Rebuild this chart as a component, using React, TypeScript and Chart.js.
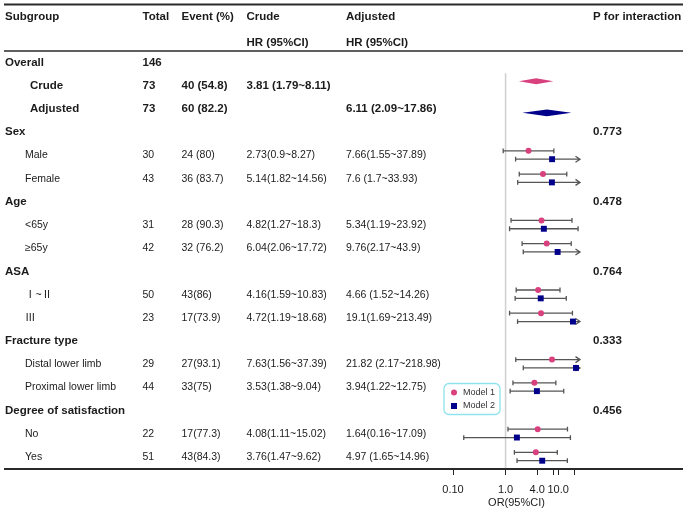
import React, { useEffect, useRef } from "react";
import { Chart, registerables } from "chart.js";

Chart.register(...registerables);

const FONT = '"Liberation Sans", Arial, Helvetica, "Noto Sans CJK SC", sans-serif';
const PINK = "#D8407E";
const NAVY = "#00008B";
const GREY = "#555555";
const INK = "#1b1b1b";

// ---- data ----
const subgroups = [
  "Overall", "Crude", "Adjusted",
  "Sex", "Male", "Female",
  "Age", "<65y", "≥65y",
  "ASA", "Ⅰ~Ⅱ", "Ⅲ",
  "Fracture type", "Distal lower limb", "Proximal lower limb",
  "Degree of satisfaction", "No", "Yes",
];
const rowTypes = [
  "group", "overall", "overall",
  "group", "item", "item",
  "group", "item", "item",
  "group", "item", "item",
  "group", "item", "item",
  "group", "item", "item",
];
const totals = ["146", "73", "73", "", "30", "43", "", "31", "42", "", "50", "23", "", "29", "44", "", "22", "51"];
const events = ["", "40 (54.8)", "60 (82.2)", "", "24 (80)", "36 (83.7)", "", "28 (90.3)", "32 (76.2)", "", "43(86)", "17(73.9)", "", "27(93.1)", "33(75)", "", "17(77.3)", "43(84.3)"];
const crudeHR = ["", "3.81 (1.79~8.11)", "", "", "2.73(0.9~8.27)", "5.14(1.82~14.56)", "", "4.82(1.27~18.3)", "6.04(2.06~17.72)", "", "4.16(1.59~10.83)", "4.72(1.19~18.68)", "", "7.63(1.56~37.39)", "3.53(1.38~9.04)", "", "4.08(1.11~15.02)", "3.76(1.47~9.62)"];
const adjustedHR = ["", "", "6.11 (2.09~17.86)", "", "7.66(1.55~37.89)", "7.6 (1.7~33.93)", "", "5.34(1.19~23.92)", "9.76(2.17~43.9)", "", "4.66 (1.52~14.26)", "19.1(1.69~213.49)", "", "21.82 (2.17~218.98)", "3.94(1.22~12.75)", "", "1.64(0.16~17.09)", "4.97 (1.65~14.96)"];
const pInteraction = ["", "", "", "0.773", "", "", "0.478", "", "", "0.764", "", "", "0.333", "", "", "0.456", "", ""];

// Model 1 (crude) estimates
const m1Est = [null, 3.81, null, null, 2.73, 5.14, null, 4.82, 6.04, null, 4.16, 4.72, null, 7.63, 3.53, null, 4.08, 3.76];
const m1Lo = [null, 1.79, null, null, 0.9, 1.82, null, 1.27, 2.06, null, 1.59, 1.19, null, 1.56, 1.38, null, 1.11, 1.47];
const m1Hi = [null, 8.11, null, null, 8.27, 14.56, null, 18.3, 17.72, null, 10.83, 18.68, null, 37.39, 9.04, null, 15.02, 9.62];
// Model 2 (adjusted) estimates
const m2Est = [null, null, 6.11, null, 7.66, 7.6, null, 5.34, 9.76, null, 4.66, 19.1, null, 21.82, 3.94, null, 1.64, 4.97];
const m2Lo = [null, null, 2.09, null, 1.55, 1.7, null, 1.19, 2.17, null, 1.52, 1.69, null, 2.17, 1.22, null, 0.16, 1.65];
const m2Hi = [null, null, 17.86, null, 37.89, 33.93, null, 23.92, 43.9, null, 14.26, 213.49, null, 218.98, 12.75, null, 17.09, 14.96];

const xTickValues = [0.1, 1, 4, 8, 10, 20];
const xTickLabels = ["0.10", "1.0", "4.0", "", "10.0", ""];
const legendLabels = ["Model 1", "Model 2"];

export default function App() {
  const ref = useRef<HTMLCanvasElement>(null);

  useEffect(() => {
    const canvas = ref.current;
    if (!canvas) return;

    const X_MIN = 0.1;
    const X_MAX = 26;
    const OFF1 = -0.2;
    const OFF2 = 0.16;

    const m1Points: { x: number; y: number }[] = [];
    const m2Points: { x: number; y: number }[] = [];
    subgroups.forEach((_, i) => {
      if (rowTypes[i] !== "item") return;
      if (m1Est[i] != null) m1Points.push({ x: m1Est[i] as number, y: i + OFF1 });
      if (m2Est[i] != null) m2Points.push({ x: m2Est[i] as number, y: i + OFF2 });
    });

    const forestPlugin = {
      id: "forestTable",
      beforeDatasetsDraw(chart: any) {
        const { ctx, chartArea } = chart;
        const xs = chart.scales.x;
        const ys = chart.scales.y;
        ctx.save();
        // reference line at 1
        const x1 = xs.getPixelForValue(1);
        ctx.strokeStyle = "#d2d2d2";
        ctx.lineWidth = 1.6;
        ctx.beginPath();
        ctx.moveTo(x1, ys.getPixelForValue(0.45));
        ctx.lineTo(x1, chartArea.bottom);
        ctx.stroke();

        const drawCI = (lo: number, hi: number, y: number) => {
          const xl = xs.getPixelForValue(Math.max(lo, X_MIN));
          const xh = xs.getPixelForValue(Math.min(hi, X_MAX));
          ctx.strokeStyle = GREY;
          ctx.lineWidth = 1.3;
          ctx.beginPath();
          ctx.moveTo(xl, y);
          ctx.lineTo(xh, y);
          if (lo >= X_MIN) {
            ctx.moveTo(xl, y - 2.4);
            ctx.lineTo(xl, y + 2.4);
          }
          if (hi <= X_MAX) {
            ctx.moveTo(xh, y - 2.4);
            ctx.lineTo(xh, y + 2.4);
          } else {
            ctx.moveTo(xh - 4.5, y - 3);
            ctx.lineTo(xh, y);
            ctx.lineTo(xh - 4.5, y + 3);
          }
          ctx.stroke();
        };
        const drawDiamond = (est: number, lo: number, hi: number, y: number, h: number, color: string) => {
          const xl = xs.getPixelForValue(lo);
          const xe = xs.getPixelForValue(est);
          const xh = xs.getPixelForValue(hi);
          ctx.fillStyle = color;
          ctx.beginPath();
          ctx.moveTo(xl, y);
          ctx.lineTo(xe, y - h);
          ctx.lineTo(xh, y);
          ctx.lineTo(xe, y + h);
          ctx.closePath();
          ctx.fill();
        };

        subgroups.forEach((_, i) => {
          if (rowTypes[i] === "item") {
            if (m1Est[i] != null) drawCI(m1Lo[i] as number, m1Hi[i] as number, ys.getPixelForValue(i + OFF1));
            if (m2Est[i] != null) drawCI(m2Lo[i] as number, m2Hi[i] as number, ys.getPixelForValue(i + OFF2));
          } else if (rowTypes[i] === "overall") {
            if (m1Est[i] != null)
              drawDiamond(m1Est[i] as number, m1Lo[i] as number, m1Hi[i] as number, ys.getPixelForValue(i + OFF1), 3, PINK);
            if (m2Est[i] != null)
              drawDiamond(m2Est[i] as number, m2Lo[i] as number, m2Hi[i] as number, ys.getPixelForValue(i + OFF2), 3.4, NAVY);
          }
        });
        ctx.restore();
      },
      afterDraw(chart: any) {
        const { ctx } = chart;
        const ys = chart.scales.y;
        const W = chart.width;
        ctx.save();
        const bold = `bold 11.5px ${FONT}`;
        const reg = `10.5px ${FONT}`;
        ctx.fillStyle = INK;
        ctx.textBaseline = "middle";
        ctx.textAlign = "left";

        const colTotal = 142.5;
        const colEvent = 181.5;
        const colCrude = 246.5;
        const colAdj = 346;
        const colP = 593;

        // header
        ctx.font = bold;
        const h1 = ys.getPixelForValue(-1.97);
        const h2 = ys.getPixelForValue(-0.85);
        ctx.fillText("Subgroup", 5, h1);
        ctx.fillText("Total", colTotal, h1);
        ctx.fillText("Event (%)", colEvent, h1);
        ctx.fillText("Crude", colCrude, h1);
        ctx.fillText("Adjusted", colAdj, h1);
        ctx.fillText("P for interaction", colP, h1);
        ctx.fillText("HR (95%CI)", colCrude, h2);
        ctx.fillText("HR (95%CI)", colAdj, h2);

        subgroups.forEach((label, i) => {
          const y = ys.getPixelForValue(i);
          const t = rowTypes[i];
          const isBold = t !== "item";
          ctx.font = isBold ? bold : reg;
          const indent = t === "group" ? 5 : t === "overall" ? 30 : 25;
          ctx.fillText(label, indent, y);
          ctx.fillText(totals[i], colTotal, y);
          ctx.fillText(events[i], colEvent, y);
          ctx.fillText(crudeHR[i], colCrude, y);
          ctx.fillText(adjustedHR[i], colAdj, y);
          ctx.font = bold;
          ctx.fillText(pInteraction[i], colP, y);
        });

        // rules
        ctx.strokeStyle = "#2a2a2a";
        ctx.lineWidth = 2;
        ctx.beginPath();
        ctx.moveTo(4, 4.5);
        ctx.lineTo(W - 5, 4.5);
        ctx.stroke();
        ctx.lineWidth = 1.4;
        ctx.beginPath();
        ctx.moveTo(4, chart.chartArea.top);
        ctx.lineTo(W - 5, chart.chartArea.top);
        ctx.stroke();
        ctx.lineWidth = 2;
        ctx.beginPath();
        ctx.moveTo(4, chart.chartArea.bottom);
        ctx.lineTo(W - 5, chart.chartArea.bottom);
        ctx.stroke();

        // legend
        const lx = 444, ly = 383.5, lw = 56, lh = 31;
        ctx.strokeStyle = "#8fe3ee";
        ctx.lineWidth = 1.3;
        ctx.beginPath();
        ctx.roundRect(lx, ly, lw, lh, 5);
        ctx.stroke();
        ctx.fillStyle = PINK;
        ctx.beginPath();
        ctx.arc(lx + 10, ly + 9, 3, 0, Math.PI * 2);
        ctx.fill();
        ctx.fillStyle = NAVY;
        ctx.fillRect(lx + 7, ly + 19.5, 6, 6);
        ctx.fillStyle = "#333";
        ctx.font = `9px ${FONT}`;
        ctx.fillText(legendLabels[0], lx + 19, ly + 9.5);
        ctx.fillText(legendLabels[1], lx + 19, ly + 22.5);
        ctx.restore();
      },
    };

    const chart = new Chart(canvas, {
      type: "scatter",
      data: {
        datasets: [
          {
            label: legendLabels[0],
            data: m1Points,
            pointStyle: "circle",
            pointRadius: 3,
            backgroundColor: PINK,
            borderColor: PINK,
            borderWidth: 0,
          },
          {
            label: legendLabels[1],
            data: m2Points,
            pointStyle: "rect",
            pointRadius: 4.2,
            backgroundColor: NAVY,
            borderColor: NAVY,
            borderWidth: 0,
          },
        ],
      },
      options: {
        responsive: false,
        animation: false,
        layout: { padding: { left: 453, right: 108, top: 51, bottom: 4 } },
        plugins: { legend: { display: false }, tooltip: { enabled: false } },
        scales: {
          x: {
            type: "logarithmic",
            min: X_MIN,
            max: X_MAX,
            position: "bottom",
            afterBuildTicks: (s: any) => {
              s.ticks = xTickValues.map((v) => ({ value: v }));
            },
            afterFit: (s: any) => {
              s.height = 41;
            },
            ticks: {
              autoSkip: false,
              maxRotation: 0,
              minRotation: 0,
              padding: 8,
              color: INK,
              font: { family: FONT, size: 11 },
              callback: (v: any) => {
                const idx = xTickValues.findIndex((t) => Math.abs(t - Number(v)) < 1e-9);
                return idx >= 0 ? xTickLabels[idx] : "";
              },
            },
            grid: { drawOnChartArea: false, drawTicks: true, tickLength: 6, color: "#222", lineWidth: 1 },
            border: { display: false },
            title: { display: true, text: "OR(95%CI)", color: INK, font: { family: FONT, size: 11 }, padding: 0 },
          },
          y: {
            type: "linear",
            reverse: true,
            min: -0.5045,
            max: 17.517,
            display: false,
          },
        },
      },
      plugins: [forestPlugin],
    } as any);

    return () => chart.destroy();
  }, []);

  return (
    <div style={{ position: "fixed", left: 0, top: 0, width: 688, height: 514, background: "#fff" }}>
      <canvas ref={ref} width={688} height={514} style={{ display: "block" }} />
    </div>
  );
}
